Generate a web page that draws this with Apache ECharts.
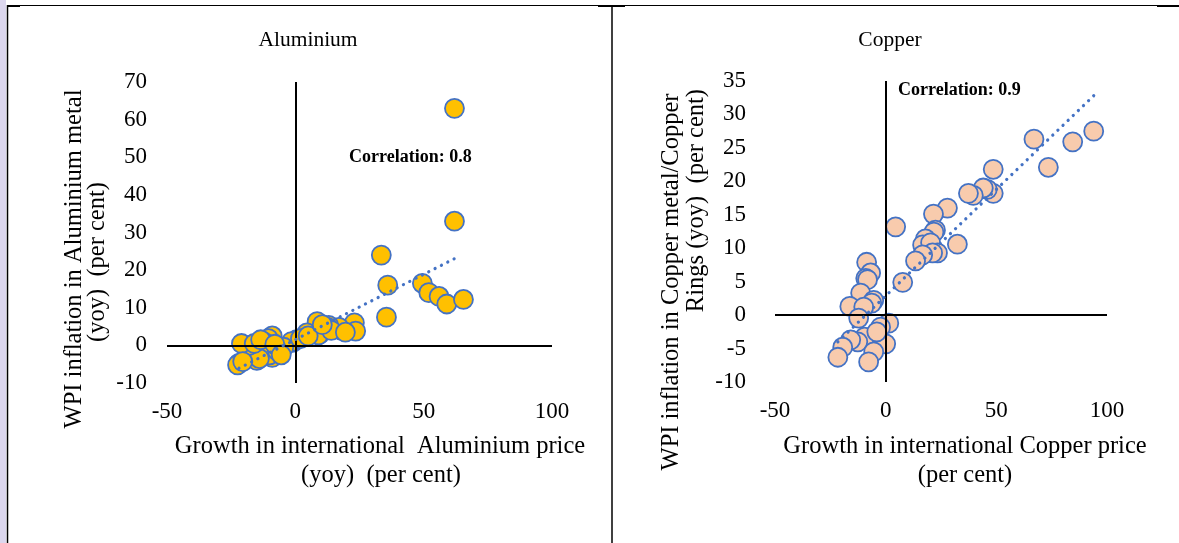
<!DOCTYPE html>
<html>
<head>
<meta charset="utf-8">
<script src="https://cdn.jsdelivr.net/npm/echarts@6/dist/echarts.min.js"></script>
<style>
html,body{margin:0;padding:0;background:#fff;}
#main{width:1179px;height:543px;}
</style>
</head>
<body>
<div id="main"></div>
<script>
// ---- Data ----
var alX = [62, 62, 33.5, 36, 35.5, 49.5, 52, 56, 59, 65.5, 23, 23.5, 18, 17, 13, 12.5, 8.5, 9.5, 9, 4.5, 0.5, -1, -1.5, -4.5, -7.5, -9, -10.5, -12, -11, -9, -10, -7, -15, -14, -18, -21, -22, -22.5, -20.5, -16, -13.5, -8, -5.5, 2, 5, 14, 19.5, 10.5];
var alY = [63, 33, 24, 16, 7.5, 16.5, 14, 13, 11, 12.2, 6, 3.8, 4, 4.8, 5.3, 4.8, 6.3, 3, 2.8, 3.3, 1.5, 0.8, 1, -0.5, -0.8, 2.5, 1.8, 0.8, -1.3, -3.2, -2.5, -1.5, -4, -3.5, 0, 0.5, -4.8, -5.2, -4.3, 0.5, 1.5, 0.3, -2.5, 1.8, 2.5, 4, 3.5, 5.5];
var alTrendX = [-22, 63];
var alTrendY = [-6.1, 23.4];

var cuX = [94, 84.5, 67, 73.5, 48.6, 48.6, 45.9, 44.1, 39.6, 37.4, 27.9, 21.6, 4.5, 22.5, 21.8, 32.4, 18, 16.7, 20.3, 23.4, 21.2, 16.7, 13.5, 7.7, -8.6, -6.8, -9, -8.2, -11.3, -16.2, -5.4, -6.3, -9.9, -12.2, 1.4, -2.3, -5.4, -9.5, -12.6, -15.8, -19.4, -21.6, 0, -5.4, -7.7, -4];
var cuY = [27.5, 25.9, 26.3, 22.1, 21.8, 18.2, 18.8, 19, 17.9, 18.2, 16, 15.1, 13.2, 12.7, 12.4, 10.6, 11.4, 10.5, 10.8, 9.3, 9.3, 9, 8.1, 4.9, 7.9, 6.3, 5.5, 5.3, 3.3, 1.3, 2.2, 1.8, 1.2, -0.45, -1.2, -1.8, -3.3, -3.3, -4, -3.7, -4.8, -6.3, -4.3, -5.5, -7, -2.5];
var cuTrendX = [-21.6, 94];
var cuTrendY = [-4, 32.8];

var alXTicks = [-50, 0, 50, 100];
var alYTicks = [-10, 0, 10, 20, 30, 40, 50, 60, 70];
var cuXTicks = [-50, 0, 50, 100];
var cuYTicks = [-10, -5, 0, 5, 10, 15, 20, 25, 30, 35];

function zip(a, b) { return a.map(function (v, i) { return [v, b[i]]; }); }

var FONT = '"Liberation Serif", "Times New Roman", serif';
var chart = echarts.init(document.getElementById('main'));

function axisCfg(idx, ticks, margin) {
  return {
    type: 'value', gridIndex: idx,
    min: ticks[0], max: ticks[ticks.length - 1], interval: ticks[1] - ticks[0],
    axisLine: {show: false}, axisTick: {show: false}, splitLine: {show: false},
    axisLabel: {fontFamily: FONT, fontSize: 23, color: '#000', margin: margin}
  };
}
var zeroLines = {
  silent: true, symbol: 'none', label: {show: false},
  lineStyle: {color: '#000', width: 2, type: 'solid'},
  emphasis: {disabled: true},
  data: [{xAxis: 0}, {yAxis: 0}]
};
var NAMEFONT = '24.5px ' + FONT;

chart.setOption({
  animation: false,
  backgroundColor: '#fff',
  grid: [
    {left: 167, top: 82, width: 385, height: 301},
    {left: 775, top: 81, width: 332, height: 301}
  ],
  xAxis: [axisCfg(0, alXTicks, 17), axisCfg(1, cuXTicks, 17)],
  yAxis: [axisCfg(0, alYTicks, 20), axisCfg(1, cuYTicks, 29)],
  series: [
    {
      type: 'scatter', xAxisIndex: 0, yAxisIndex: 0, z: 3,
      data: zip(alX, alY), symbolSize: 19,
      itemStyle: {color: '#FFC000', borderColor: '#4472C4', borderWidth: 1.8, opacity: 1},
      markLine: zeroLines
    },
    {
      type: 'line', xAxisIndex: 0, yAxisIndex: 0, z: 5,
      data: zip(alTrendX, alTrendY), showSymbol: false, symbol: 'none',
      lineStyle: {color: '#4472C4', width: 3.2, type: [0.1, 7], cap: 'round'}
    },
    {
      type: 'scatter', xAxisIndex: 1, yAxisIndex: 1, z: 3,
      data: zip(cuX, cuY), symbolSize: 19,
      itemStyle: {color: '#F8CBAD', borderColor: '#4472C4', borderWidth: 1.8, opacity: 1},
      markLine: zeroLines
    },
    {
      type: 'line', xAxisIndex: 1, yAxisIndex: 1, z: 5,
      data: zip(cuTrendX, cuTrendY), showSymbol: false, symbol: 'none',
      lineStyle: {color: '#4472C4', width: 3.2, type: [0.1, 7], cap: 'round'}
    }
  ],
  graphic: [
    // frame
    {type: 'rect', shape: {x: 0, y: 0, width: 6, height: 543}, style: {fill: '#dcd7ee'}, silent: true},
    {type: 'line', shape: {x1: 7.5, y1: 5, x2: 7.5, y2: 543}, style: {stroke: '#000', lineWidth: 1.5}, silent: true},
    {type: 'line', shape: {x1: 7, y1: 5.5, x2: 1179, y2: 5.5}, style: {stroke: '#000', lineWidth: 1}, silent: true},
    {type: 'line', shape: {x1: 7, y1: 6, x2: 20, y2: 6}, style: {stroke: '#000', lineWidth: 2}, silent: true},
    {type: 'line', shape: {x1: 598, y1: 6, x2: 625, y2: 6}, style: {stroke: '#000', lineWidth: 2}, silent: true},
    {type: 'line', shape: {x1: 1157, y1: 6, x2: 1179, y2: 6}, style: {stroke: '#000', lineWidth: 2}, silent: true},
    {type: 'line', shape: {x1: 612, y1: 5, x2: 612, y2: 543}, style: {stroke: '#000', lineWidth: 1.5}, silent: true},
    // titles
    {type: 'text', x: 308, y: 40, style: {text: 'Aluminium', font: '21.5px ' + FONT, fill: '#000', textAlign: 'center', textVerticalAlign: 'middle'}},
    {type: 'text', x: 890, y: 40, style: {text: 'Copper', font: '21.5px ' + FONT, fill: '#000', textAlign: 'center', textVerticalAlign: 'middle'}},
    // correlation
    {type: 'text', x: 349, y: 157, z: 10, style: {text: 'Correlation: 0.8', font: 'bold 18px ' + FONT, fill: '#000', textAlign: 'left', textVerticalAlign: 'middle'}},
    {type: 'text', x: 898, y: 90, z: 10, style: {text: 'Correlation: 0.9', font: 'bold 18px ' + FONT, fill: '#000', textAlign: 'left', textVerticalAlign: 'middle'}},
    // x names
    {type: 'text', x: 380, y: 447, style: {text: 'Growth in international  Aluminium price', font: NAMEFONT, fill: '#000', textAlign: 'center', textVerticalAlign: 'middle'}},
    {type: 'text', x: 381, y: 476, style: {text: '(yoy)  (per cent)', font: NAMEFONT, fill: '#000', textAlign: 'center', textVerticalAlign: 'middle'}},
    {type: 'text', x: 965, y: 447, style: {text: 'Growth in international Copper price', font: NAMEFONT, fill: '#000', textAlign: 'center', textVerticalAlign: 'middle'}},
    {type: 'text', x: 965, y: 476, style: {text: '(per cent)', font: NAMEFONT, fill: '#000', textAlign: 'center', textVerticalAlign: 'middle'}},
    // y names
    {type: 'text', x: 75, y: 259, rotation: Math.PI / 2, style: {text: 'WPI inflation in Aluminium metal', font: NAMEFONT, fill: '#000', textAlign: 'center', textVerticalAlign: 'middle'}},
    {type: 'text', x: 98, y: 262, rotation: Math.PI / 2, style: {text: '(yoy)  (per cent)', font: NAMEFONT, fill: '#000', textAlign: 'center', textVerticalAlign: 'middle'}},
    {type: 'text', x: 672, y: 282, rotation: Math.PI / 2, style: {text: 'WPI inflation in Copper metal/Copper', font: NAMEFONT, fill: '#000', textAlign: 'center', textVerticalAlign: 'middle'}},
    {type: 'text', x: 697, y: 89, rotation: Math.PI / 2, style: {text: 'Rings (yoy)  (per cent)', font: NAMEFONT, fill: '#000', textAlign: 'right', textVerticalAlign: 'middle'}}
  ]
});
</script>
</body>
</html>
